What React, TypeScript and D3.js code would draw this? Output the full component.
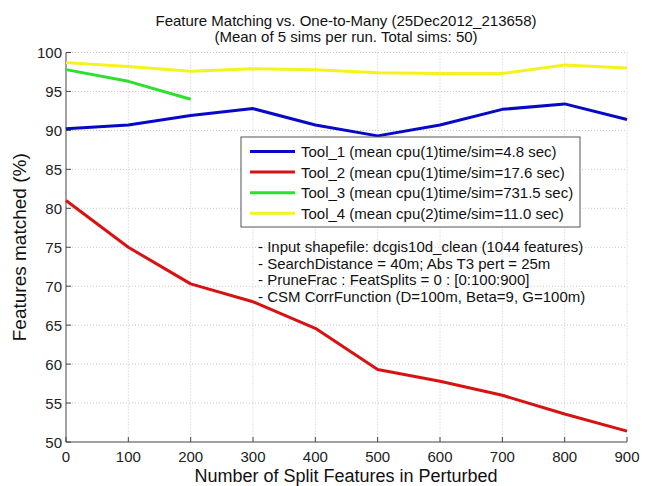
import { useEffect, useRef } from "react";
import * as d3 from "d3";

const splits = [0, 100, 200, 300, 400, 500, 600, 700, 800, 900];
const tool1 = [90.2, 90.7, 91.9, 92.8, 90.7, 89.3, 90.7, 92.7, 93.4, 91.4];
const tool2 = [81.0, 75.0, 70.3, 68.0, 64.6, 59.3, 57.8, 56.0, 53.6, 51.4];
const tool3 = [97.8, 96.3, 94.0];
const tool4 = [98.7, 98.2, 97.6, 97.9, 97.8, 97.4, 97.3, 97.3, 98.4, 98.0];

const seriesNames = [
  "Tool_1 (mean cpu(1)time/sim=4.8 sec)",
  "Tool_2 (mean cpu(1)time/sim=17.6 sec)",
  "Tool_3 (mean cpu(1)time/sim=731.5 sec)",
  "Tool_4 (mean cpu(2)time/sim=11.0 sec)",
];
const seriesColors = ["#0808c8", "#d81212", "#2ee02e", "#f6f21e"];
const notes = [
  "- Input shapefile: dcgis10d_clean (1044 features)",
  "- SearchDistance = 40m; Abs T3 pert = 25m",
  "- PruneFrac : FeatSplits = 0 : [0:100:900]",
  "- CSM CorrFunction (D=100m, Beta=9, G=100m)",
];
const yTicks = [50, 55, 60, 65, 70, 75, 80, 85, 90, 95, 100];

export default function App() {
  const ref = useRef<SVGSVGElement>(null);

  useEffect(() => {
    if (!ref.current) return;
    const svg = d3.select(ref.current);
    svg.selectAll("*").remove();

    const W = 650, H = 486;
    const left = 66, right = 627, top = 52.5, bottom = 442;
    const font = "'Liberation Sans', Arial, sans-serif";

    svg.append("rect").attr("width", W).attr("height", H).attr("fill", "#fff");

    const x = d3.scaleLinear().domain([0, 900]).range([left, right]);
    const y = d3.scaleLinear().domain([50, 100]).range([bottom, top]);

    // grid
    const grid = svg.append("g").attr("stroke", "#c8c8c8").attr("stroke-dasharray", "1,2").attr("stroke-width", 1);
    splits.slice(1).forEach((v) => {
      grid.append("line").attr("x1", x(v)).attr("x2", x(v)).attr("y1", top).attr("y2", bottom);
    });
    yTicks.slice(1).forEach((v) => {
      grid.append("line").attr("x1", left).attr("x2", right).attr("y1", y(v)).attr("y2", y(v));
    });

    // axes
    const ax = svg.append("g").attr("stroke", "#444").attr("stroke-width", 1);
    ax.append("line").attr("x1", left).attr("x2", left).attr("y1", top).attr("y2", bottom);
    ax.append("line").attr("x1", left).attr("x2", right).attr("y1", bottom).attr("y2", bottom);
    splits.forEach((v) => {
      ax.append("line").attr("x1", x(v)).attr("x2", x(v)).attr("y1", bottom).attr("y2", bottom - 5);
    });
    yTicks.forEach((v) => {
      ax.append("line").attr("x1", left).attr("x2", left + 5).attr("y1", y(v)).attr("y2", y(v));
    });

    svg.append("g")
      .selectAll("text")
      .data(splits)
      .join("text")
      .attr("x", (d) => x(d))
      .attr("y", bottom + 19.5)
      .attr("text-anchor", "middle")
      .attr("font-family", font)
      .attr("font-size", 15)
      .attr("fill", "#222")
      .text((d) => d);

    svg.append("g")
      .selectAll("text")
      .data(yTicks)
      .join("text")
      .attr("x", left - 4)
      .attr("y", (d) => y(d) + 5.5)
      .attr("text-anchor", "end")
      .attr("font-family", font)
      .attr("font-size", 15)
      .attr("fill", "#222")
      .text((d) => d);

    // lines
    const line = d3
      .line<number>()
      .x((_, i) => x(splits[i]))
      .y((d) => y(d));
    const all = [tool1, tool2, tool3, tool4];
    [3, 2, 0, 1].forEach((k) => {
      svg.append("path")
        .attr("d", line(all[k]))
        .attr("fill", "none")
        .attr("stroke", seriesColors[k])
        .attr("stroke-width", 3)
        .attr("stroke-linejoin", "round");
    });

    // legend
    const lg = svg.append("g");
    lg.append("rect")
      .attr("x", 241).attr("y", 137).attr("width", 339).attr("height", 90)
      .attr("fill", "#fff").attr("stroke", "#555").attr("stroke-width", 1);
    seriesNames.forEach((name, i) => {
      const ry = 151.5 + i * 20.6;
      lg.append("line").attr("x1", 250).attr("x2", 295).attr("y1", ry).attr("y2", ry)
        .attr("stroke", seriesColors[i]).attr("stroke-width", 3);
      lg.append("text").attr("x", 301).attr("y", ry + 5.5)
        .attr("font-family", font).attr("font-size", 15).attr("fill", "#111").text(name);
    });

    // notes
    notes.forEach((t, i) => {
      svg.append("text").attr("x", 258).attr("y", 252 + i * 16.7)
        .attr("font-family", font).attr("font-size", 15).attr("fill", "#111").text(t);
    });

    // title & labels
    svg.append("text").attr("x", 346).attr("y", 26).attr("text-anchor", "middle")
      .attr("font-family", font).attr("font-size", 15).attr("fill", "#111")
      .text("Feature Matching vs. One-to-Many (25Dec2012_213658)");
    svg.append("text").attr("x", 346).attr("y", 42).attr("text-anchor", "middle")
      .attr("font-family", font).attr("font-size", 15).attr("fill", "#111")
      .text("(Mean of 5 sims per run. Total sims: 50)");
    svg.append("text").attr("x", 346).attr("y", 482).attr("text-anchor", "middle")
      .attr("font-family", font).attr("font-size", 18).attr("fill", "#111")
      .text("Number of Split Features in Perturbed");
    svg.append("text")
      .attr("transform", `translate(26,${(top + bottom) / 2}) rotate(-90)`)
      .attr("text-anchor", "middle")
      .attr("font-family", font).attr("font-size", 19).attr("fill", "#111")
      .text("Features matched (%)");
  }, []);

  return (
    <div style={{ position: "fixed", left: 0, top: 0 }}>
      <svg ref={ref} width={650} height={486} style={{ display: "block" }} />
    </div>
  );
}
